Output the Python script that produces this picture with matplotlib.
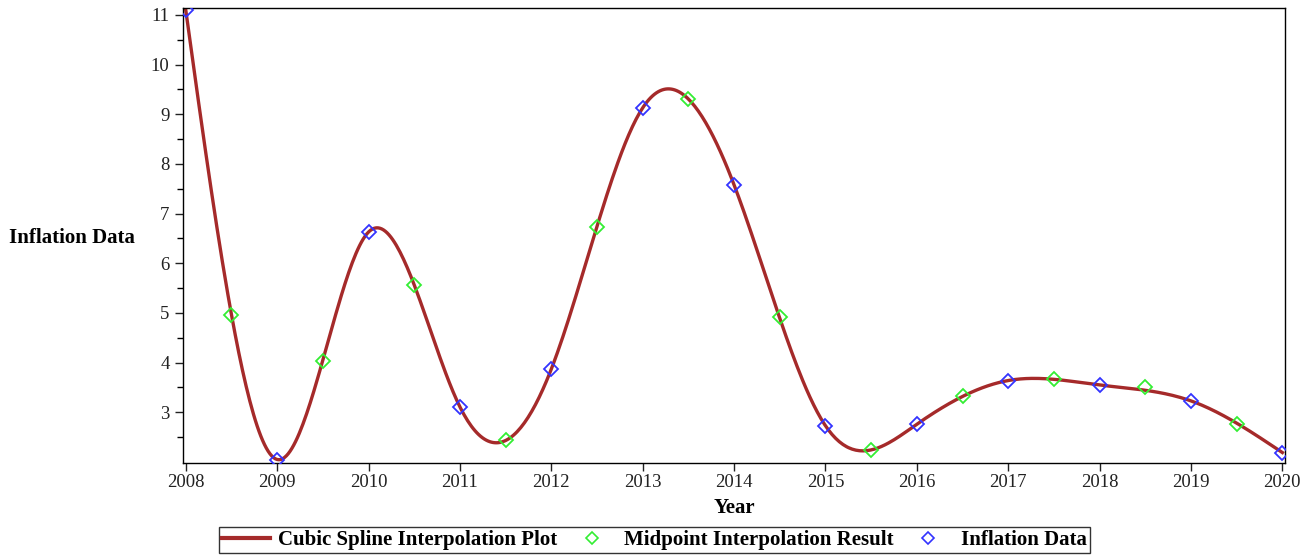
import numpy as np
import matplotlib.pyplot as plt
from matplotlib.lines import Line2D

# dati
years = [2008, 2009, 2010, 2011, 2012, 2013, 2014, 2015, 2016, 2017, 2018, 2019, 2020]
inflation = [11.1, 2.05, 6.63, 3.11, 3.87, 9.13, 7.58, 2.73, 2.76, 3.64, 3.55, 3.23, 2.19]
mid_years = [2008.5, 2009.5, 2010.5, 2011.5, 2012.5, 2013.5, 2014.5, 2015.5, 2016.5, 2017.5, 2018.5, 2019.5]
mid_values = [4.95, 4.03, 5.56, 2.44, 6.73, 9.31, 4.91, 2.25, 3.32, 3.67, 3.50, 2.77]


def natural_spline(x, y, xs):
    """Spline cubica naturale valutata in xs."""
    x = np.asarray(x, float)
    y = np.asarray(y, float)
    n = len(x)
    h = np.diff(x)
    A = np.zeros((n, n))
    b = np.zeros(n)
    A[0, 0] = A[-1, -1] = 1.0
    for i in range(1, n - 1):
        A[i, i - 1] = h[i - 1]
        A[i, i] = 2 * (h[i - 1] + h[i])
        A[i, i + 1] = h[i]
        b[i] = 6 * ((y[i + 1] - y[i]) / h[i] - (y[i] - y[i - 1]) / h[i - 1])
    M = np.linalg.solve(A, b)
    k = np.clip(np.searchsorted(x, xs) - 1, 0, n - 2)
    t0 = x[k + 1] - xs
    t1 = xs - x[k]
    hk = h[k]
    return (M[k] * t0**3 / (6 * hk) + M[k + 1] * t1**3 / (6 * hk)
            + (y[k] / hk - M[k] * hk / 6) * t0
            + (y[k + 1] / hk - M[k + 1] * hk / 6) * t1)


plt.rcParams['font.family'] = ['Liberation Serif', 'DejaVu Serif']

xs = np.linspace(years[0], years[-1], 600)
ys = natural_spline(years, inflation, xs)

fig = plt.figure(figsize=(13.1, 5.56), dpi=100)
ax = fig.add_axes([0.1395, 0.1673, 0.8415, 0.8183])

line_col = '#A52A2A'
green = '#33EE33'
blue = '#3333FF'

ax.plot(xs, ys, color=line_col, lw=2.4, zorder=2)
ax.plot(mid_years, mid_values, 'D', mfc='none', mec=green, ms=7.2, mew=1.3, zorder=3)
ax.plot(years, inflation, 'D', mfc='none', mec=blue, ms=7.2, mew=1.3, zorder=3)

ax.set_xlim(2007.967, 2020.03)
ax.set_ylim(1.98, 11.14)
ax.set_xticks(years)
ax.set_yticks(range(3, 12))
ax.set_yticks(np.arange(2.5, 11.0, 1.0), minor=True)
ax.tick_params(axis='both', which='major', direction='out', length=6, width=1,
               labelsize=13.5, colors='#222222')
ax.tick_params(axis='x', which='major', pad=2)
ax.tick_params(axis='y', which='minor', direction='out', length=4, width=1)
for s in ax.spines.values():
    s.set_linewidth(1)

ax.set_xlabel('Year', fontsize=15, fontweight='bold')
ax.xaxis.set_label_coords(0.5, -0.099)
ax.xaxis.label.set_va('center')
fig.text(0.007, 0.572, 'Inflation Data', fontsize=15, fontweight='bold',
         ha='left', va='center')

handles = [Line2D([], [], color=line_col, lw=3),
           Line2D([], [], ls='none', marker='D', mfc='none', mec=green, ms=6, mew=1.2),
           Line2D([], [], ls='none', marker='D', mfc='none', mec=blue, ms=6, mew=1.2)]
labels = ['Cubic Spline Interpolation Plot', 'Midpoint Interpolation Result', 'Inflation Data']
leg = fig.legend(handles, labels, loc='center', bbox_to_anchor=(0.4995, 0.029), ncol=3,
                 frameon=True, fancybox=False, edgecolor='black', borderpad=0.15,
                 handlelength=2.3, handletextpad=0.4, columnspacing=0.5,
                 prop={'weight': 'bold', 'size': 15})
leg.get_frame().set_linewidth(1)

fig.savefig('out.png', dpi=100)
